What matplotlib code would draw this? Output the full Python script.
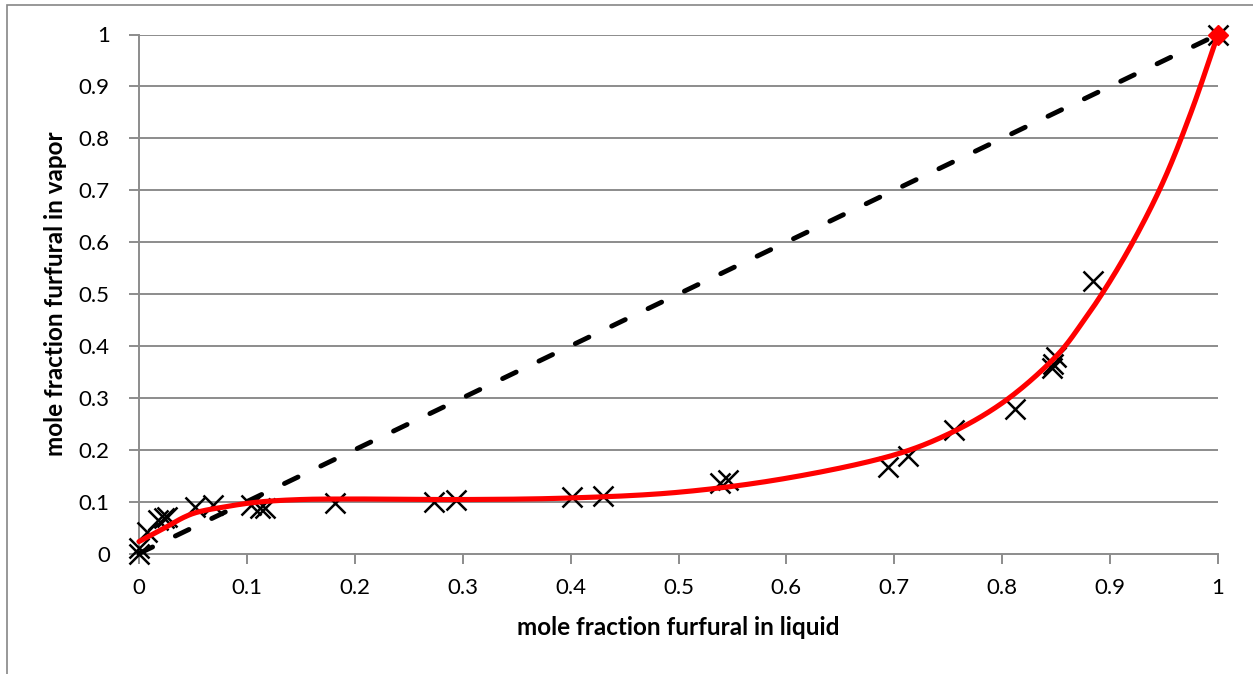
import numpy as np
import matplotlib
matplotlib.use("Agg")
import matplotlib.pyplot as plt
from matplotlib.patches import Rectangle

# Measured vapor-liquid equilibrium data (furfural mole fractions)
x_liquid = [0.0, 0.0, 0.007, 0.018, 0.023, 0.026, 0.052, 0.069, 0.104, 0.112,
            0.117, 0.182, 0.273, 0.294, 0.401, 0.430, 0.538, 0.546, 0.694,
            0.713, 0.755, 0.812, 0.846, 0.847, 0.850, 0.884, 1.0]
y_vapor = [0.0, 0.010, 0.042, 0.065, 0.068, 0.071, 0.090, 0.093, 0.093, 0.087,
           0.088, 0.097, 0.100, 0.104, 0.109, 0.111, 0.135, 0.142, 0.167,
           0.187, 0.238, 0.278, 0.357, 0.366, 0.379, 0.525, 1.0]

# Model curve (smoothed line through these nodes)
x_model = [0.0, 0.02, 0.05, 0.08, 0.11, 0.15, 0.2, 0.3, 0.4, 0.5, 0.6, 0.7,
           0.75, 0.8, 0.85, 0.875, 0.9, 0.925, 0.95, 0.975, 1.0]
y_model = [0.023, 0.045, 0.077, 0.090, 0.099, 0.104, 0.105, 0.104, 0.107,
           0.118, 0.145, 0.190, 0.230, 0.290, 0.380, 0.447, 0.525, 0.615,
           0.720, 0.850, 1.0]

# Diagonal reference y = x
x_diag = [0.0, 1.0]
y_diag = [0.0, 1.0]

x_ticks = [0, 0.1, 0.2, 0.3, 0.4, 0.5, 0.6, 0.7, 0.8, 0.9, 1]
y_ticks = [0, 0.1, 0.2, 0.3, 0.4, 0.5, 0.6, 0.7, 0.8, 0.9, 1]
tick_labels = ["0", "0.1", "0.2", "0.3", "0.4", "0.5", "0.6", "0.7", "0.8", "0.9", "1"]


def centripetal_catmull_rom(xs, ys, n=30, alpha=0.5):
    pts = np.column_stack([xs, ys]).astype(float)
    p = np.vstack([2 * pts[0] - pts[1], pts, 2 * pts[-1] - pts[-2]])
    out = []
    for i in range(1, len(p) - 2):
        p0, p1, p2, p3 = p[i - 1], p[i], p[i + 1], p[i + 2]
        t0 = 0.0
        t1 = t0 + np.linalg.norm(p1 - p0) ** alpha
        t2 = t1 + np.linalg.norm(p2 - p1) ** alpha
        t3 = t2 + np.linalg.norm(p3 - p2) ** alpha
        t = np.linspace(t1, t2, n, endpoint=False)[:, None]
        a1 = (t1 - t) / (t1 - t0) * p0 + (t - t0) / (t1 - t0) * p1
        a2 = (t2 - t) / (t2 - t1) * p1 + (t - t1) / (t2 - t1) * p2
        a3 = (t3 - t) / (t3 - t2) * p2 + (t - t2) / (t3 - t2) * p3
        b1 = (t2 - t) / (t2 - t0) * a1 + (t - t0) / (t2 - t0) * a2
        b2 = (t3 - t) / (t3 - t1) * a2 + (t - t1) / (t3 - t1) * a3
        out.append((t2 - t) / (t2 - t1) * b1 + (t - t1) / (t2 - t1) * b2)
    out.append(pts[-1][None, :])
    out = np.vstack(out)
    return out[:, 0], out[:, 1]


plt.rcParams['font.family'] = ['Lato', 'DejaVu Sans']

W, H = 1253, 674
fig = plt.figure(figsize=(W / 100, H / 100), dpi=100)
fig.patch.set_facecolor("white")

# Outer chart frame
fig.add_artist(Rectangle((7 / W, -0.1), 1.2, 1 - 5 / H + 0.1,
                         transform=fig.transFigure, fill=False,
                         edgecolor="#868686", linewidth=1.2))

ax = fig.add_axes([139 / W, 1 - 553.5 / H, 1079 / W, 519 / H])
grid_c = "#8c8c8c"

for yv in y_ticks[1:]:
    ax.axhline(yv, color=grid_c, linewidth=1.4, zorder=1)

ax.plot(x_diag, y_diag, color="black", linewidth=3.5, linestyle=(0, (3.1, 5.2)),
        dash_capstyle="round", zorder=3, clip_on=False)

ax.plot(x_liquid, y_vapor, linestyle="none", marker="x", color="black",
        markersize=14, markeredgewidth=1.8, zorder=4, clip_on=False)

xs, ys = centripetal_catmull_rom(x_model, y_model)
ax.plot(xs, ys, color="#ff0000", linewidth=3.7, zorder=5, clip_on=False,
        solid_capstyle="round")
ax.plot([x_model[-1]], [y_model[-1]], marker="D", color="#ff0000",
        markersize=10, linestyle="none", zorder=6, clip_on=False)

ax.set_xlim(0, 1)
ax.set_ylim(0, 1)
ax.set_xticks(x_ticks)
ax.set_xticklabels(tick_labels)
ax.set_yticks(y_ticks)
ax.set_yticklabels(tick_labels)

for side in ("top", "right"):
    ax.spines[side].set_visible(False)
for side in ("left", "bottom"):
    ax.spines[side].set_color(grid_c)
    ax.spines[side].set_linewidth(1.4)

ax.tick_params(axis="both", colors=grid_c, labelcolor="black", labelsize=16,
               length=7, width=1.4, direction="out")
ax.tick_params(axis="y", pad=14)
ax.tick_params(axis="x", pad=11)

fig.text(678.5 / W, 1 - 635 / H, "mole fraction furfural in liquid",
         fontsize=17.5, fontweight="bold", ha="center", va="baseline")
fig.text(56 / W, 1 - 294 / H, "mole fraction furfural in vapor",
         fontsize=17.5, fontweight="bold", ha="center", va="center",
         rotation=90)

fig.savefig("out.png", dpi=100, facecolor="white")
